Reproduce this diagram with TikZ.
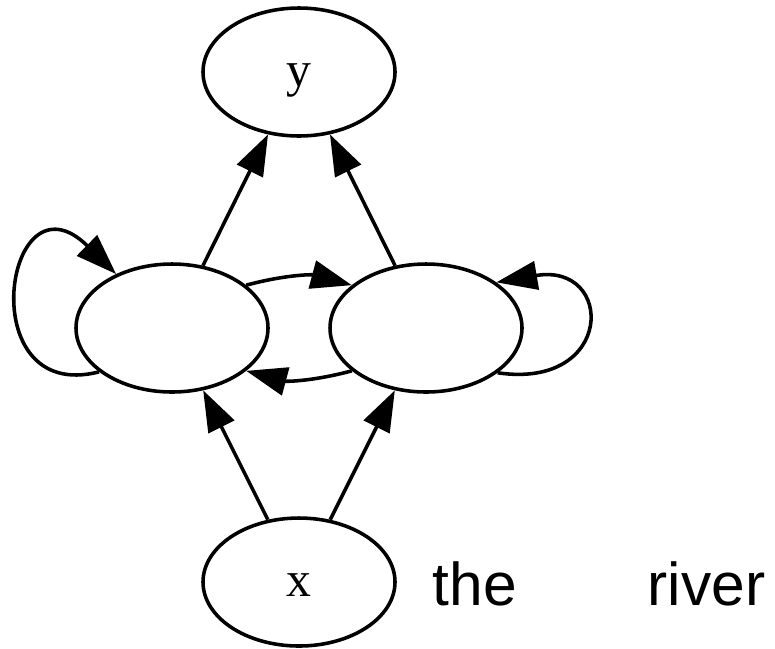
\documentclass[tikz,border=0pt]{standalone}
\usepackage{fontspec}
\setmainfont{Liberation Serif}
\newfontfamily\wordfont{Liberation Sans}
\usetikzlibrary{shapes.geometric,arrows.meta}

\begin{document}
\begin{tikzpicture}[x=0.28125pt,y=0.28125pt,
    >={Triangle[length=11.5pt,width=8pt]},
    state/.style={ellipse,draw,line width=1pt,minimum width=54pt,minimum height=36pt,
      inner sep=0pt,font=\fontsize{14}{14}\selectfont,text height=8.4pt,text depth=0pt},
    link/.style={->,line width=1pt},
    word/.style={anchor=base west,inner sep=0pt,font=\wordfont\fontsize{17}{17}\selectfont}]
  \useasboundingbox (0,0) rectangle (775,-648);

  % Draw the states
  \node[state] (y) at (299,-72) {y};
  \node[state] (l) at (172,-328) {};
  \node[state] (r) at (426,-328) {};
  \node[state] (x) at (299,-582) {x};

  % Draw the straight edges
  \draw[link] (l) -- (y);
  \draw[link] (r) -- (y);
  \draw[link] (x) -- (l);
  \draw[link] (x) -- (r);

  % Draw the edges between the two middle states
  \draw[link] (l.30) to[bend left=15] (r.150);
  \draw[link] (r.210) to[bend left=15] (l.330);

  % Draw the loops
  \draw[link] (l.211) .. controls (-30,-405) and (5,-165) .. (l.136);
  \draw[link] (r.-32) .. controls (615,-390) and (615,-262) .. (r.33);

  % Write the words
  \node[word] (the) at (432,-605) {the};
  \node[word] (river) at (647,-605) {river};
\end{tikzpicture}
\end{document}
